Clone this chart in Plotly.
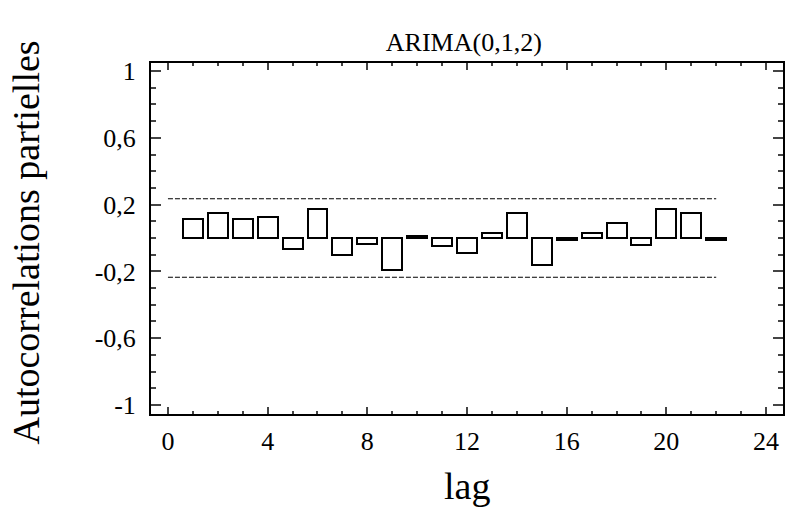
import plotly.graph_objects as go

lags = list(range(1, 23))
pacf = [0.112, 0.147, 0.112, 0.124, -0.065, 0.171, -0.104, -0.033, -0.194, 0.010,
        -0.045, -0.088, 0.029, 0.147, -0.159, -0.012, 0.029, 0.088, -0.041, 0.171,
        0.147, -0.012]
conf_limit = 0.235
conf_x = [0, 22]
x_ticks = [0, 4, 8, 12, 16, 20, 24]
y_ticks = [1, 0.6, 0.2, -0.2, -0.6, -1]
y_tick_text = ["1", "0,6", "0,2", "-0,2", "-0,6", "-1"]

FONT = "Liberation Serif"

fig = go.Figure()
fig.add_trace(go.Bar(x=lags, y=pacf, width=0.8,
                     marker=dict(color="white", line=dict(color="black", width=2)),
                     showlegend=False))
for s in (1, -1):
    fig.add_trace(go.Scatter(x=conf_x, y=[s * conf_limit] * 2, mode="lines",
                             line=dict(color="black", width=1.2, dash="5px,2px"),
                             showlegend=False))

fig.update_layout(
    width=787, height=508,
    margin=dict(l=151, r=2, t=63, b=94),
    paper_bgcolor="white", plot_bgcolor="white",
    font=dict(family=FONT, color="black", size=26),
    title=dict(text="ARIMA(0,1,2)", x=0.495, xref="paper", xanchor="center",
               y=0.918, yref="container", yanchor="middle",
               font=dict(family=FONT, size=26)),
    bargap=0,
    annotations=[
        dict(text="lag", xref="paper", yref="paper", x=0.5, y=-0.204,
             xanchor="center", yanchor="middle", showarrow=False,
             font=dict(family=FONT, size=38)),
        dict(text="Autocorrelations partielles", xref="paper", yref="paper",
             x=-0.197, y=0.49, xanchor="center", yanchor="middle", textangle=-90,
             showarrow=False, font=dict(family=FONT, size=38)),
    ],
)
fig.update_xaxes(range=[-0.68, 24.68], tickvals=x_ticks, ticks="inside", ticklen=7,
                 tickwidth=1.5, showline=True, linewidth=2, linecolor="black", mirror="ticks",
                 showgrid=False, zeroline=False, ticklabelstandoff=3,
                 minor=dict(dtick=1, ticks="inside", ticklen=3, tickwidth=1.5, showgrid=False))
fig.update_yaxes(range=[-1.054, 1.048], tickvals=y_ticks, ticktext=y_tick_text, ticks="inside",
                 ticklen=10, tickwidth=1.5, showline=True, linewidth=2, linecolor="black",
                 mirror="ticks", showgrid=False, zeroline=False, ticklabelstandoff=8,
                 minor=dict(dtick=0.1, ticks="inside", ticklen=5, tickwidth=1.5, showgrid=False))

fig.write_html("out.html", config={"displayModeBar": False},
               post_script="document.body.style.margin='0';")
